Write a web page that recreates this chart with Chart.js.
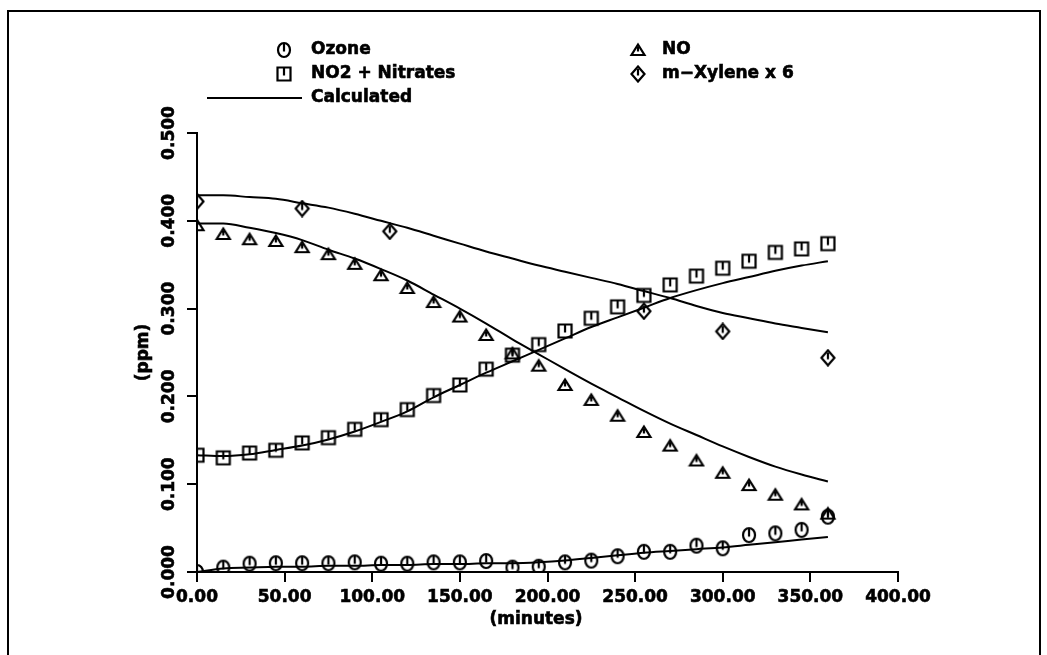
<!DOCTYPE html>
<html>
<head>
<meta charset="utf-8">
<script src="https://cdn.jsdelivr.net/npm/chart.js@4.4.1/dist/chart.umd.min.js"></script>
<style>
  html, body { margin: 0; padding: 0; background: #fff; }
  canvas { display: block; }
</style>
</head>
<body>
<canvas id="chart" width="1047" height="655"></canvas>
<script>
// measured sample times (minutes)
const sampleMinutes = [0, 15, 30, 45, 60, 75, 90, 105, 120, 135, 150, 165, 180,
    195, 210, 225, 240, 255, 270, 285, 300, 315, 330, 345, 360];
const xyleneMinutes = [0, 60, 110, 255, 300, 360];

// measured concentrations (ppm)
const ozone = [0.000, 0.005, 0.0095, 0.010, 0.010, 0.010, 0.011, 0.0095, 0.0095, 0.011, 0.011, 0.0125, 0.005,
    0.006, 0.011, 0.013, 0.018, 0.023, 0.023, 0.030, 0.027, 0.042, 0.044, 0.048, 0.063];
const no = [0.395, 0.385, 0.379, 0.377, 0.370, 0.362, 0.351, 0.338, 0.3235, 0.3075, 0.291, 0.270, 0.249,
    0.235, 0.213, 0.196, 0.178, 0.1595, 0.144, 0.127, 0.113, 0.099, 0.088, 0.077, 0.0665];
const no2 = [0.133, 0.130, 0.1355, 0.1386, 0.147, 0.153, 0.1625, 0.1735, 0.185, 0.201, 0.213, 0.231, 0.247,
    0.259, 0.2745, 0.289, 0.302, 0.315, 0.327, 0.337, 0.346, 0.354, 0.364, 0.368, 0.374];
const xylene = [0.422, 0.414, 0.388, 0.297, 0.274, 0.244];

// calculated curves, read at the sample times
const ozoneCalc = [0.000, 0.004, 0.005, 0.006, 0.006, 0.007, 0.007, 0.008, 0.008, 0.009, 0.009, 0.010, 0.010,
    0.011, 0.013, 0.016, 0.019, 0.022, 0.024, 0.026, 0.028, 0.031, 0.034, 0.037, 0.040];
const noCalc = [0.397, 0.397, 0.392, 0.386, 0.378, 0.367, 0.357, 0.345, 0.332, 0.316, 0.300, 0.283, 0.265,
    0.248, 0.231, 0.2145, 0.199, 0.1835, 0.169, 0.156, 0.143, 0.131, 0.120, 0.111, 0.103];
const no2Calc = [0.133, 0.132, 0.134, 0.139, 0.144, 0.151, 0.160, 0.171, 0.183, 0.199, 0.213, 0.227, 0.240,
    0.253, 0.266, 0.279, 0.290, 0.301, 0.312, 0.321, 0.329, 0.336, 0.343, 0.349, 0.354];
const xyleneCalc = [0.429, 0.429, 0.427, 0.425, 0.420, 0.415, 0.408, 0.400, 0.392, 0.383, 0.374, 0.365, 0.357,
    0.349, 0.342, 0.335, 0.328, 0.320, 0.312, 0.303, 0.295, 0.289, 0.283, 0.278, 0.273];

const xTicks = [0, 50, 100, 150, 200, 250, 300, 350, 400];
const yTicks = [0, 0.1, 0.2, 0.3, 0.4, 0.5];

const FONT = '"DejaVu Sans", sans-serif';

function pairs(xs, ys) {
    return xs.map((x, i) => ({ x: x, y: ys[i] }));
}

// hollow marker with a small tick from the top to the centre
function makeMarker(kind) {
    const c = document.createElement('canvas');
    c.width = 18; c.height = 18;
    const g = c.getContext('2d');
    g.strokeStyle = '#000';
    g.lineWidth = 2.2;
    g.beginPath();
    let top = 2;
    if (kind === 'circle') {
        g.ellipse(9, 9, 6, 7, 0, 0, Math.PI * 2);
    } else if (kind === 'square') {
        g.rect(2.5, 2.5, 13, 13);
    } else if (kind === 'triangle') {
        g.moveTo(9, 3.5); g.lineTo(15.5, 14); g.lineTo(2.5, 14); g.closePath();
        top = 6;
    } else {
        g.moveTo(9, 1.5); g.lineTo(15.5, 9); g.lineTo(9, 16.5); g.lineTo(2.5, 9); g.closePath();
        top = 4;
    }
    g.stroke();
    g.beginPath();
    g.moveTo(9, top); g.lineTo(9, 10.5);
    g.stroke();
    return c;
}

const markers = {
    circle: makeMarker('circle'),
    square: makeMarker('square'),
    triangle: makeMarker('triangle'),
    diamond: makeMarker('diamond')
};

function pointSet(label, data, style) {
    return {
        label: label,
        data: data,
        showLine: false,
        pointStyle: style,
        pointRadius: 9,
        borderColor: '#000',
        backgroundColor: 'transparent'
    };
}

function calcSet(data) {
    return {
        label: 'Calculated',
        data: data,
        showLine: true,
        pointRadius: 0,
        borderColor: '#000',
        borderWidth: 2,
        cubicInterpolationMode: 'monotone',
        fill: false
    };
}

// bold text with a thin outline so it reads as heavy as the plotter font
function heavyText(ctx, text, x, y) {
    ctx.fillText(text, x, y);
    ctx.strokeText(text, x, y);
}

const decorations = {
    id: 'decorations',
    beforeDraw(chart) {
        const ctx = chart.ctx;
        ctx.save();
        ctx.fillStyle = '#fff';
        ctx.fillRect(0, 0, chart.width, chart.height);
        // page frame
        ctx.strokeStyle = '#000';
        ctx.lineWidth = 2;
        ctx.beginPath();
        ctx.moveTo(8, 655);
        ctx.lineTo(8, 11);
        ctx.lineTo(1040, 11);
        ctx.lineTo(1040, 655);
        ctx.stroke();
        ctx.restore();
    },
    afterDraw(chart) {
        const ctx = chart.ctx;
        const ys = chart.scales.y;
        ctx.save();
        ctx.fillStyle = '#000';
        ctx.strokeStyle = '#000';
        ctx.lineWidth = 0.6;

        // rotated y tick labels
        ctx.font = 'bold 17px ' + FONT;
        ctx.textAlign = 'center';
        ctx.textBaseline = 'middle';
        yTicks.forEach(v => {
            ctx.save();
            ctx.translate(170, ys.getPixelForValue(v));
            ctx.rotate(-Math.PI / 2);
            heavyText(ctx, v.toFixed(3), 0, 0);
            ctx.restore();
        });

        // axis titles
        ctx.save();
        ctx.translate(144, (ys.top + ys.bottom) / 2);
        ctx.rotate(-Math.PI / 2);
        heavyText(ctx, '(ppm)', 0, 0);
        ctx.restore();
        heavyText(ctx, '(minutes)', 536, 620);

        // legend
        ctx.textAlign = 'left';
        const rows = [50, 74, 98];
        const items = [
            { m: markers.circle, x: 284, y: rows[0], text: 'Ozone' },
            { m: markers.square, x: 284, y: rows[1], text: 'NO2 + Nitrates' },
            { m: markers.triangle, x: 638, y: rows[0], text: 'NO' },
            { m: markers.diamond, x: 638, y: rows[1], text: 'm\u2212Xylene x 6' }
        ];
        items.forEach(it => {
            ctx.drawImage(it.m, it.x - 9, it.y - 9);
            heavyText(ctx, it.text, it.x + (it.x > 500 ? 24 : 27), it.y);
        });
        ctx.lineWidth = 2;
        ctx.beginPath();
        ctx.moveTo(207, rows[2]);
        ctx.lineTo(302, rows[2]);
        ctx.stroke();
        ctx.lineWidth = 0.6;
        heavyText(ctx, 'Calculated', 311, rows[2]);
        ctx.restore();
    }
};

new Chart(document.getElementById('chart'), {
    type: 'scatter',
    data: {
        datasets: [
            calcSet(pairs(sampleMinutes, ozoneCalc)),
            calcSet(pairs(sampleMinutes, noCalc)),
            calcSet(pairs(sampleMinutes, no2Calc)),
            calcSet(pairs(sampleMinutes, xyleneCalc)),
            pointSet('Ozone', pairs(sampleMinutes, ozone), markers.circle),
            pointSet('NO', pairs(sampleMinutes, no), markers.triangle),
            pointSet('NO2 + Nitrates', pairs(sampleMinutes, no2), markers.square),
            pointSet('m-Xylene x 6', pairs(xyleneMinutes, xylene), markers.diamond)
        ]
    },
    options: {
        responsive: false,
        animation: false,
        devicePixelRatio: 1,
        layout: { padding: { left: 0, right: 149, top: 133, bottom: 0 } },
        plugins: {
            legend: { display: false },
            tooltip: { enabled: false }
        },
        scales: {
            x: {
                type: 'linear',
                min: 0,
                max: 400,
                afterBuildTicks: s => { s.ticks = xTicks.map(v => ({ value: v })); },
                afterFit: s => { s.height = 83; },
                ticks: {
                    autoSkip: false,
                    maxRotation: 0,
                    padding: 5,
                    color: '#000',
                    textStrokeColor: '#000',
                    textStrokeWidth: 0.6,
                    font: { family: FONT, size: 17, weight: 'bold' },
                    callback: v => v.toFixed(2)
                },
                grid: { drawOnChartArea: false, drawTicks: true, tickLength: 10, color: '#000', lineWidth: 2 },
                border: { display: true, color: '#000', width: 2 }
            },
            y: {
                type: 'linear',
                min: 0,
                max: 0.5,
                afterBuildTicks: s => { s.ticks = yTicks.map(v => ({ value: v })); },
                afterFit: s => { s.width = 197; },
                ticks: { display: false },
                grid: { drawOnChartArea: false, drawTicks: true, tickLength: 10, color: '#000', lineWidth: 2 },
                border: { display: true, color: '#000', width: 2 }
            }
        }
    },
    plugins: [decorations]
});
</script>
</body>
</html>
